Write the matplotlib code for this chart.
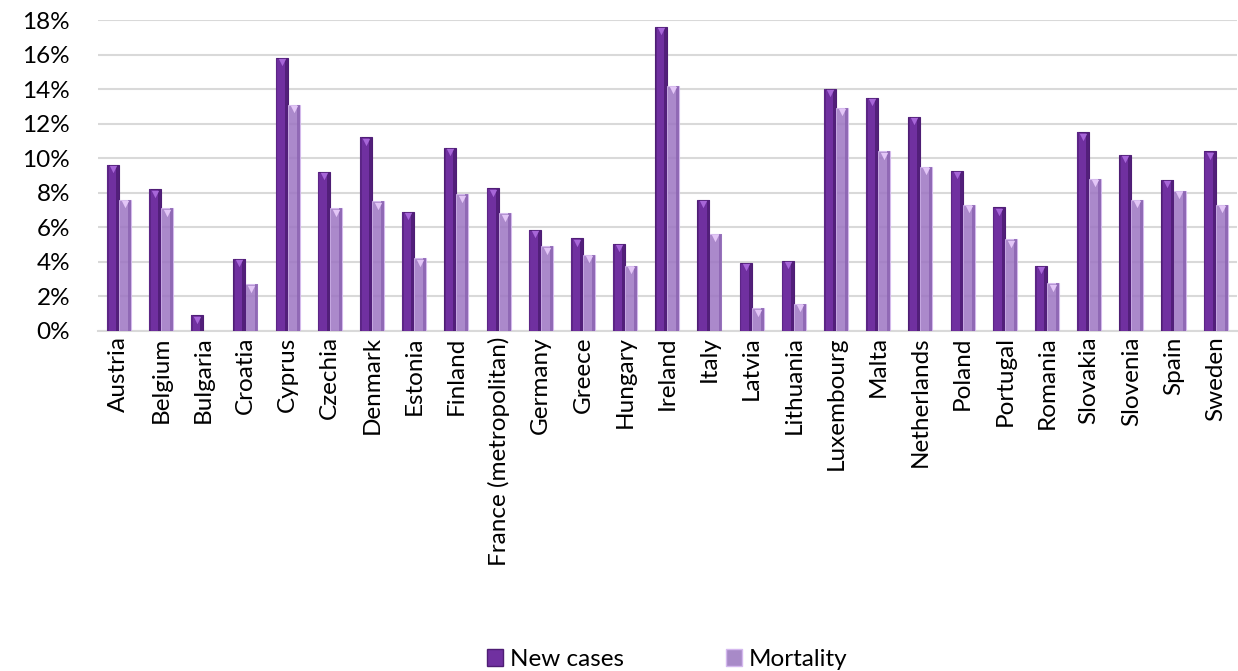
import numpy as np
import matplotlib
matplotlib.use('Agg')
import matplotlib.pyplot as plt
from matplotlib.patches import Patch
from matplotlib.ticker import FuncFormatter

# data (percent)
countries = ['Austria', 'Belgium', 'Bulgaria', 'Croatia', 'Cyprus', 'Czechia', 'Denmark',
             'Estonia', 'Finland', 'France (metropolitan)', 'Germany', 'Greece', 'Hungary',
             'Ireland', 'Italy', 'Latvia', 'Lithuania', 'Luxembourg', 'Malta', 'Netherlands',
             'Poland', 'Portugal', 'Romania', 'Slovakia', 'Slovenia', 'Spain', 'Sweden']
new_cases = [9.6, 8.2, 0.9, 4.15, 15.8, 9.2, 11.2, 6.9, 10.6, 8.25, 5.85, 5.35, 5.05,
             17.6, 7.6, 3.95, 4.05, 14.0, 13.5, 12.4, 9.25, 7.15, 3.75, 11.5, 10.2, 8.75, 10.4]
mortality = [7.6, 7.1, 0.0, 2.7, 13.1, 7.1, 7.5, 4.2, 7.9, 6.8, 4.9, 4.4, 3.75,
             14.2, 5.6, 1.3, 1.55, 12.9, 10.4, 9.5, 7.3, 5.3, 2.75, 8.8, 7.6, 8.1, 7.3]

plt.rcParams['font.family'] = ['Lato', 'DejaVu Sans']
fs = 17.5

fig = plt.figure(figsize=(12.38, 6.71), dpi=100)
ax = fig.add_axes([0.079, 0.507, 0.92, 0.463])

x = np.arange(len(countries))
w = 0.285
nc = np.array(new_cases)
mo = np.array(mortality)

# dark series: body, shaded strips, top bevel marker
ax.bar(x - w / 2, nc, w, color='#7030A0', edgecolor='#4E1D74', linewidth=0.8, zorder=3)
ax.bar(x - w * 0.12, nc, w * 0.25, color='#521F7A', linewidth=0, zorder=3.1)
ax.bar(x - w * 0.92, nc, w * 0.12, color='#5C2586', linewidth=0, zorder=3.1)
ax.scatter((x - w / 2)[nc > 0], nc[nc > 0] - 0.25, marker='v', s=28, color='#A766D8',
           linewidths=0, zorder=4)

# light series (semi transparent)
m = mo > 0
ax.bar((x + w / 2)[m], mo[m], w, color='#9C74C2', alpha=0.85, edgecolor='#D4B8EE',
       linewidth=0.8, zorder=3)
ax.bar((x + w * 0.88)[m], mo[m], w * 0.25, color='#8A62B0', alpha=0.8, linewidth=0, zorder=3.1)
ax.scatter((x + w / 2)[m], mo[m] - 0.25, marker='v', s=28, color='#E3C6F7',
           linewidths=0, zorder=4)

ax.set_xlim(-0.5, len(countries) - 0.5)
ax.set_ylim(0, 18)
ax.set_yticks(np.arange(0, 19, 2))
ax.yaxis.set_major_formatter(FuncFormatter(lambda v, p: '%d%%' % v))
ax.set_xticks(x)
ax.set_xticklabels(countries, rotation=90)
ax.tick_params(axis='both', length=0, labelsize=fs, colors='black')
ax.tick_params(axis='y', pad=20)
ax.tick_params(axis='x', pad=4)
ax.grid(axis='y', color='#D9D9D9', linewidth=1.5, zorder=0)
for s in ['top', 'right', 'left']:
    ax.spines[s].set_visible(False)
ax.spines['bottom'].set_color('#D9D9D9')
ax.spines['bottom'].set_linewidth(1.5)

handles = [Patch(facecolor='#7030A0', edgecolor='#4E1D74'),
           Patch(facecolor='#A88AC8', edgecolor='#D4B8EE')]
ax.legend(handles, ['New cases', 'Mortality'], loc='center', bbox_to_anchor=(0.5, -1.058),
          ncol=2, frameon=False, fontsize=fs, handlelength=0.65, handleheight=0.65,
          handletextpad=0.3, columnspacing=4.2)

fig.savefig('out.png', dpi=100)
